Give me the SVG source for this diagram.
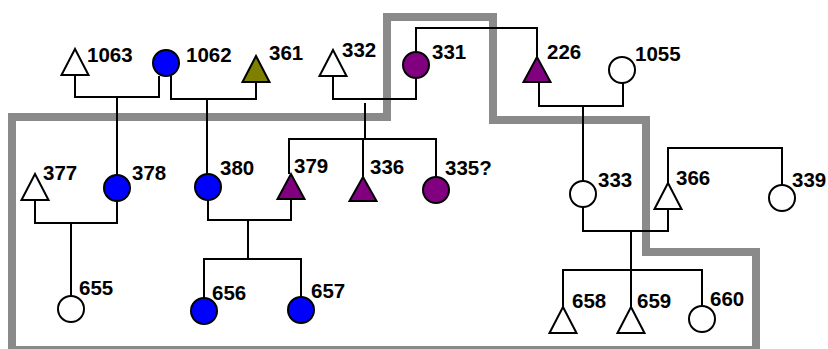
<svg xmlns="http://www.w3.org/2000/svg" width="828" height="349" viewBox="0 0 828 349">
<style>
.b{fill:none;stroke:#8a8a8a;stroke-width:8;stroke-linejoin:miter}
.l{fill:none;stroke:#000;stroke-width:2}
.s{stroke:#000;stroke-width:2}
.w{fill:#fff}.bl{fill:#0000ff}.p{fill:#800080}.o{fill:#808000}
text{font-family:"Liberation Sans",Arial,sans-serif;font-weight:bold;font-size:20.5px;fill:#000}
</style>
<rect width="828" height="349" fill="#fff"/>
<path class="b" d="M12,350 L12,117 L387,117 L387,17 L493,17 L493,120 L646,120 L646,252 L756,252 L756,350 Z"/>
<g id="connectors">
<path class="l" d="M75,75 V97 H159 V76"/>
<path class="l" d="M171,76 V99 H256 V82"/>
<path class="l" d="M117,97 V175"/>
<path class="l" d="M207,99 V174"/>
<path class="l" d="M333,76 V99 H416 V78"/>
<path class="l" d="M365,103 V139"/>
<path class="l" d="M289,174 V139 H436 V177"/>
<path class="l" d="M363,139 V177"/>
<path class="l" d="M416,52 V28 H537 V58"/>
<path class="l" d="M539,82 V106 H623 V83"/>
<path class="l" d="M583,106 V181"/>
<path class="l" d="M35,200 V223 H117 V201"/>
<path class="l" d="M71,223 V296"/>
<path class="l" d="M208,200 V220 H291 V199"/>
<path class="l" d="M248,220 V259"/>
<path class="l" d="M204,298 V259 H301 V297"/>
<path class="l" d="M583,207 V231 H668 V209"/>
<path class="l" d="M668,183 V148 H782 V185"/>
<path class="l" d="M631,231 V270"/>
<path class="l" d="M563,307 V270 H702 V306"/>
<path class="l" d="M631,270 V307"/>
</g>
<g id="n1063"><polygon class="s w" points="75,49 61.5,75 88.5,75"/><text x="87" y="62">1063</text></g>
<g id="n1062"><circle class="s bl" cx="166" cy="63" r="13"/><text x="186" y="62">1062</text></g>
<g id="n361"><polygon class="s o" points="256,56 242.5,82 269.5,82"/><text x="269" y="60">361</text></g>
<g id="n332"><polygon class="s w" points="333,50 319.5,76 346.5,76"/><text x="342" y="57">332</text></g>
<g id="n331"><circle class="s p" cx="416" cy="65" r="13"/><text x="432" y="59">331</text></g>
<g id="n226"><polygon class="s p" points="537,57 523.5,82 550.5,82"/><text x="547" y="59">226</text></g>
<g id="n1055"><circle class="s w" cx="622" cy="70" r="13"/><text x="635" y="61">1055</text></g>
<g id="n377"><polygon class="s w" points="35,174 21.5,200 48.5,200"/><text x="43" y="180">377</text></g>
<g id="n378"><circle class="s bl" cx="117" cy="188" r="13"/><text x="132" y="180">378</text></g>
<g id="n380"><circle class="s bl" cx="208" cy="187" r="13"/><text x="220" y="175">380</text></g>
<g id="n379"><polygon class="s p" points="291,174 277.5,199 304.5,199"/><text x="294" y="173">379</text></g>
<g id="n336"><polygon class="s p" points="363,177 349.5,201 376.5,201"/><text x="370" y="174">336</text></g>
<g id="n335"><circle class="s p" cx="436" cy="190" r="13"/><text x="445" y="175">335?</text></g>
<g id="n333"><circle class="s w" cx="583" cy="194" r="13"/><text x="598" y="187">333</text></g>
<g id="n366"><polygon class="s w" points="668,183 654.5,209 681.5,209"/><text x="676" y="185">366</text></g>
<g id="n339"><circle class="s w" cx="782" cy="198" r="13"/><text x="792" y="187">339</text></g>
<g id="n655"><circle class="s w" cx="71" cy="309" r="13"/><text x="79" y="295">655</text></g>
<g id="n656"><circle class="s bl" cx="204" cy="311" r="13"/><text x="212" y="300">656</text></g>
<g id="n657"><circle class="s bl" cx="301" cy="310" r="13"/><text x="311" y="298">657</text></g>
<g id="n658"><polygon class="s w" points="563,307 549.5,333 576.5,333"/><text x="572" y="308">658</text></g>
<g id="n659"><polygon class="s w" points="631,307 617.5,333 644.5,333"/><text x="637" y="308">659</text></g>
<g id="n660"><circle class="s w" cx="702" cy="319" r="13"/><text x="710" y="306">660</text></g>
</svg>
